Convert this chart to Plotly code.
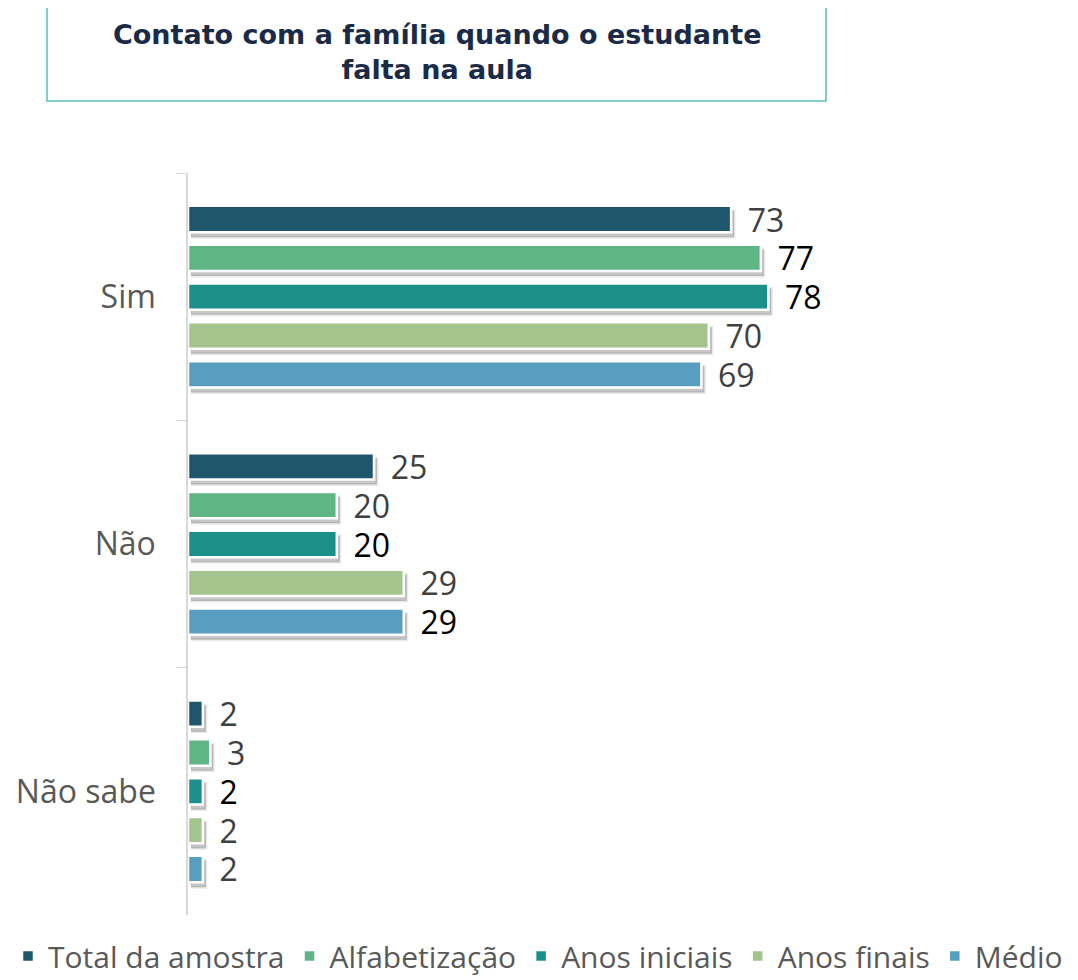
import plotly.graph_objects as go

categories = ["Sim", "Não", "Não sabe"]
series_names = ["Total da amostra", "Alfabetização", "Anos iniciais", "Anos finais", "Médio"]
total = [73, 25, 2]
alfabetizacao = [77, 20, 3]
anos_iniciais = [78, 20, 2]
anos_finais = [70, 29, 2]
medio = [69, 29, 2]
series_values = [total, alfabetizacao, anos_iniciais, anos_finais, medio]
colors = ["#1F566C", "#60B584", "#1C8F8B", "#A3C48C", "#589EC0"]
label_colors = [
    ["#404040", "#404040", "#404040"],
    ["#000000", "#404040", "#404040"],
    ["#000000", "#000000", "#000000"],
    ["#404040", "#404040", "#404040"],
    ["#404040", "#000000", "#404040"],
]
title_text = "Contato com a família quando o estudante<br>falta na aula"

W, H = 1078, 980
OFF = 8  # page body margin
SH_X, SH_Y = 3, 5  # shadow offset in px
L = 188 - OFF
T = 173 - OFF
plot_bottom = 915 - OFF
R = 0
B = H - plot_bottom - SH_Y
pw = W - L - R
ph = H - T - B
dx = SH_X / pw
dy = SH_Y / ph
px_per_unit = 7.44
xmax = pw * (1 - dx) / px_per_unit

fig = go.Figure()

# soft shadows behind bars
for name, vals in zip(series_names, series_values):
    fig.add_trace(go.Bar(
        y=categories, x=vals, orientation="h", name=name,
        marker=dict(color="rgba(0,0,0,0.22)", line=dict(color="rgba(0,0,0,0.08)", width=3)),
        showlegend=False, hoverinfo="skip", xaxis="x", yaxis="y",
    ))

for name, vals, c, lc in zip(series_names, series_values, colors, label_colors):
    fig.add_trace(go.Bar(
        y=categories, x=vals, orientation="h", name=name,
        marker=dict(color=c, line=dict(color="white", width=2.5)),
        text=[str(v) for v in vals], texttemplate="\u2009 %{text}", textposition="outside",
        textfont=dict(family="Open Sans", size=32, color=lc),
        constraintext="none", cliponaxis=False, xaxis="x2", yaxis="y2",
    ))

fig.update_layout(
    width=W, height=H,
    margin=dict(l=L, r=R, t=T, b=B, autoexpand=False),
    plot_bgcolor="rgba(0,0,0,0)", paper_bgcolor="white",
    barmode="group", bargap=0.215, bargroupgap=0.32,
    xaxis=dict(domain=[dx, 1], range=[0, xmax], visible=False),
    yaxis=dict(domain=[0, 1 - dy], type="category", categoryorder="array",
               categoryarray=categories, autorange="reversed", visible=False),
    xaxis2=dict(domain=[0, 1 - dx], range=[0, xmax], visible=False, anchor="y2"),
    yaxis2=dict(domain=[dy, 1], type="category", categoryorder="array",
                categoryarray=categories, autorange="reversed", anchor="x2",
                showline=True, linecolor="#D9D9D9", linewidth=1.5,
                ticks="outside", tickson="boundaries", ticklen=10, tickcolor="#D9D9D9",
                showgrid=False, ticklabelstandoff=24,
                tickfont=dict(family="Open Sans", size=32, color="#595959")),
    legend=dict(orientation="h", x=-L / pw, xanchor="left",
                y=-(946 - OFF - plot_bottom + SH_Y) / ph, yanchor="middle",
                font=dict(family="Open Sans", size=30, color="#595959"),
                itemwidth=30, traceorder="normal"),
    showlegend=True,
)

fig.add_shape(type="rect", xref="paper", yref="paper",
              x0=(47 - OFF - L) / pw, x1=(826 - OFF - L) / pw,
              y0=1 + (T - (101 - OFF)) / ph, y1=1 + (T - (7 - OFF) + 1) / ph,
              line=dict(color="#5BBDBD", width=1.5), fillcolor="white")
fig.add_annotation(text="<b>" + title_text + "</b>", xref="paper", yref="paper",
                   x=(437 - OFF - L) / pw, y=1 + (T - (52 - OFF)) / ph,
                   xanchor="center", yanchor="middle",
                   showarrow=False, align="center",
                   font=dict(family="DejaVu Sans", size=27, color="#1B2A47"))

fig.write_html("out.html")
